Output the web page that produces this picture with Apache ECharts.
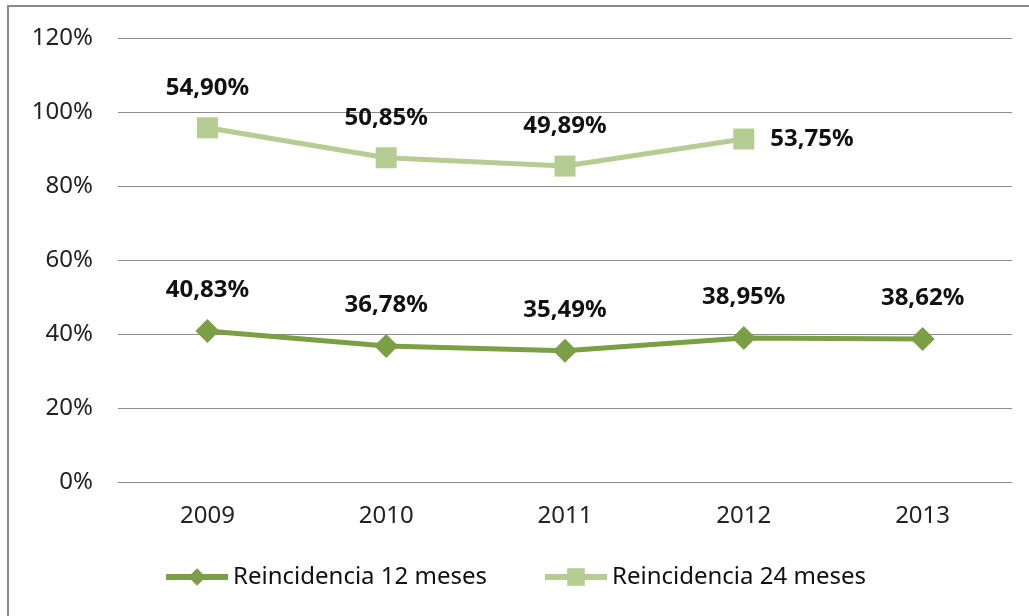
<!DOCTYPE html>
<html>
<head>
<meta charset="utf-8">
<script src="https://cdn.jsdelivr.net/npm/echarts@6/dist/echarts.min.js"></script>
<style>
  html, body { margin: 0; padding: 0; background: #fff; }
  #wrap { position: relative; width: 1029px; height: 616px; }
  #frame {
    position: absolute; left: 7px; top: 5px; right: -4px; bottom: -4px;
    border-left: 2px solid #8a8a8a; border-top: 2px solid #8a8a8a;
  }
  #chart { position: absolute; left: 0; top: 0; width: 1029px; height: 616px; }
</style>
</head>
<body>
<div id="wrap">
  <div id="frame"></div>
  <div id="chart"></div>
</div>
<script>
const years = ['2009', '2010', '2011', '2012', '2013']
const reinc12 = [0.4083, 0.3678, 0.3549, 0.3895, 0.3862]
const reinc24 = [0.5490, 0.5085, 0.4989, 0.5375, null]
const yTicks = { min: 0, max: 1.2, interval: 0.2 }

const fontFam = '"Noto Sans", "Open Sans", sans-serif'
const pct = v => (v * 100).toFixed(2).replace('.', ',') + '%'

const chart = echarts.init(document.getElementById('chart'))

const labelBase = {
  show: true,
  position: 'top',
  distance: 17,
  color: '#111',
  fontFamily: fontFam,
  fontWeight: 'bold',
  fontSize: 24,
  formatter: p => pct(p.value)
}

chart.setOption({
  animation: false,
  grid: { left: 118, right: 17, top: 38, bottom: 134 },
  legend: {
    bottom: 22,
    left: 'center',
    itemWidth: 62,
    itemHeight: 22,
    itemGap: 55,
    lineStyle: { width: 6 },
    textStyle: { fontFamily: fontFam, fontSize: 24, color: '#111' },
    data: ['Reincidencia 12 meses', 'Reincidencia 24 meses']
  },
  xAxis: {
    type: 'category',
    data: years,
    boundaryGap: true,
    axisLine: { show: true, lineStyle: { color: '#8c8c8c', width: 1 } },
    axisTick: { show: false },
    axisLabel: { fontFamily: fontFam, fontSize: 24, color: '#222', margin: 22 }
  },
  yAxis: {
    type: 'value',
    min: yTicks.min,
    max: yTicks.max,
    interval: yTicks.interval,
    axisLine: { show: false },
    axisTick: { show: false },
    splitLine: { lineStyle: { color: '#8c8c8c', width: 1 } },
    axisLabel: {
      fontFamily: fontFam, fontSize: 24, color: '#222', margin: 25,
      formatter: v => Math.round(v * 100) + '%'
    }
  },
  series: [
    {
      name: 'Reincidencia 12 meses',
      type: 'line',
      stack: 'total',
      data: reinc12,
      symbol: 'diamond',
      symbolSize: 24,
      itemStyle: { color: '#7a9f45' },
      lineStyle: { color: '#7a9f45', width: 5 },
      label: labelBase
    },
    {
      name: 'Reincidencia 24 meses',
      type: 'line',
      stack: 'total',
      data: reinc24.map((v, i) => i === 3
        ? { value: v, label: { position: 'right', distance: 16 } }
        : v),
      symbol: 'rect',
      symbolSize: 21,
      itemStyle: { color: '#b5cd92' },
      lineStyle: { color: '#b5cd92', width: 5 },
      label: labelBase
    }
  ]
})
</script>
</body>
</html>
